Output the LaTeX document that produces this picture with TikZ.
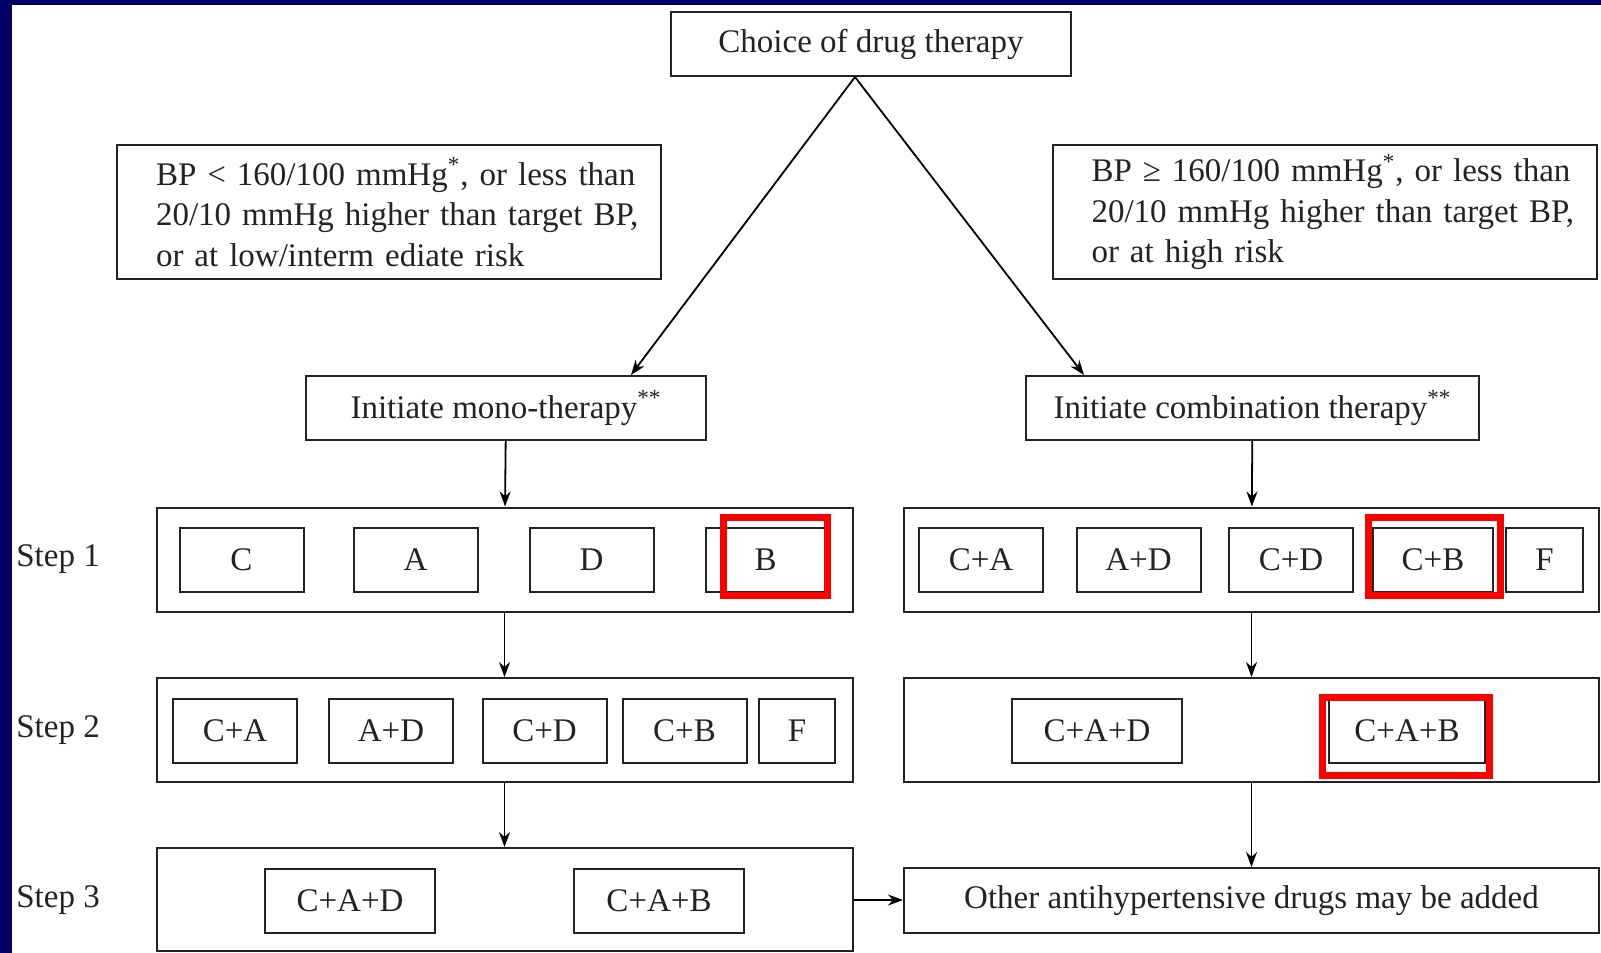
\documentclass[tikz,border=0pt]{standalone}
\usepackage{fontspec}
\setmainfont{Liberation Serif}
\usetikzlibrary{arrows.meta}
\definecolor{slidenavy}{RGB}{0,0,102}
\definecolor{inkgray}{RGB}{35,35,35}

\begin{document}
\begin{tikzpicture}[x=0.5pt,y=-0.5pt,
  every node/.style={font=\fontsize{16.5}{20.2}\selectfont, text=inkgray},
  >={Stealth[length=7.5pt,width=5.5pt]},
  box/.style={draw=inkgray, line width=1pt, inner sep=0pt, minimum height=32pt},
  drug/.style={box, minimum width=62pt},
  triple/.style={box, minimum width=85pt},
  stepbox/.style={draw=inkgray, line width=1pt, minimum height=52pt, minimum width=348pt},
  cond/.style={box, align=left, text width=233pt, inner xsep=19.5pt, minimum height=67pt},
  hilite/.style={draw=red, line width=3.5pt, inner sep=0pt, minimum height=39pt},
  steplabel/.style={anchor=west, inner sep=0pt},
  link/.style={->, line width=0.9pt}]
\fill[slidenavy] (0,0) rectangle (1601,953);
\fill[white] (12,5) rectangle (1601,953);
\useasboundingbox (0,0) rectangle (1601,953);

% top of the chart
\node[box, minimum width=200pt] (choice) at (871,44) {Choice of drug therapy};
\node[cond] (lowbp) at (389,212)
  {\mbox{BP < 160/100 mmHg\textsuperscript{*}, or less than}\\
   \mbox{20/10 mmHg higher than target BP,}\\
   \mbox{or at low/interm ediate risk}};
\node[cond] (highbp) at (1324.5,212)
  {\mbox{BP ≥ 160/100 mmHg\textsuperscript{*}, or less than}\\
   \mbox{20/10 mmHg higher than target BP,}\\
   \mbox{or at high risk}};
\node[box, minimum width=200pt] (mono) at (506,408) {Initiate mono-therapy\textsuperscript{**}};
\node[box, minimum width=226.5pt] (combo) at (1252.5,408) {Initiate combination therapy\textsuperscript{**}};
\coordinate (apex) at (855,77);

% step containers
\node[steplabel] (s1) at (16,559) {Step 1};
\node[steplabel] (s2) at (16,730) {Step 2};
\node[steplabel] (s3) at (16,900) {Step 3};
\node[stepbox] (monoA) at (504.5,559.5) {};
\node[stepbox] (monoB) at (504.5,730) {};
\node[stepbox, minimum height=51.5pt] (monoC) at (504.5,899.5) {};
\node[stepbox, minimum width=347.5pt] (combA) at (1251.5,559.5) {};
\node[stepbox, minimum width=347.5pt] (combB) at (1251.5,730) {};
\node[box, minimum width=347.5pt, minimum height=32.5pt] (other) at (1251.5,900.5)
  {Other antihypertensive drugs may be added};

% step 1
\node[drug] (m1c) at (241.5,560) {C};
\node[drug] (m1a) at (415.5,560) {A};
\node[drug] (m1d) at (591.5,560) {D};
\node[drug, minimum width=59.5pt] (m1b) at (765.5,560) {B};
\node[drug] (c1ca) at (981,560) {C+A};
\node[drug] (c1ad) at (1138.5,560) {A+D};
\node[drug] (c1cd) at (1291,560) {C+D};
\node[drug, minimum width=60pt] (c1cb) at (1433,560) {C+B};
\node[drug, minimum width=38.5pt] (c1f) at (1544.5,560) {F};

% step 2
\node[drug] (m2ca) at (235,730.5) {C+A};
\node[drug] (m2ad) at (391,730.5) {A+D};
\node[drug] (m2cd) at (544.5,730.5) {C+D};
\node[drug] (m2cb) at (684.5,730.5) {C+B};
\node[drug, minimum width=38pt] (m2f) at (797,730.5) {F};
\node[triple] (c2cad) at (1097,730.5) {C+A+D};
\node[triple, minimum width=78pt] (c2cab) at (1407,730.5) {C+A+B};

% step 3
\node[triple] (m3cad) at (350,900.5) {C+A+D};
\node[triple] (m3cab) at (659,900.5) {C+A+B};

% red marks
\node[hilite, minimum width=52pt] (hlb) at (775.5,556.5) {};
\node[hilite, minimum width=66pt] (hlcb) at (1434.5,556.5) {};
\node[hilite, minimum width=83.5pt] (hlcab) at (1406,736.5) {};

% arrows
\draw[link] (apex) -- ([xshift=62.5pt]mono.north);
\draw[link] (apex) -- ([xshift=-84.25pt]combo.north);
\draw[link] (mono) -- (monoA);
\draw[link] (monoA) -- (monoB);
\draw[link] (monoB) -- (monoC);
\draw[link] (combo) -- (combA);
\draw[link] (combA) -- (combB);
\draw[link] (combB) -- (other);
\draw[link] (monoC) -- (other);
\end{tikzpicture}
\end{document}
